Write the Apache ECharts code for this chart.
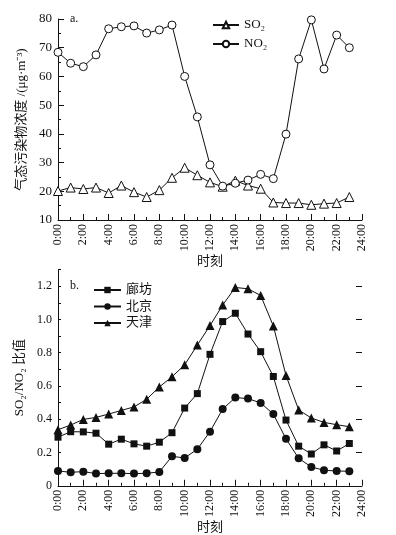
<!DOCTYPE html>
<html><head><meta charset="utf-8">
<script src="https://cdn.jsdelivr.net/npm/echarts@6/dist/echarts.min.js"></script>
<style>html,body{margin:0;padding:0;background:#fff}#c{width:396px;height:535px}</style>
</head><body><div id="c"></div>
<script>
const hours = [0,1,2,3,4,5,6,7,8,9,10,11,12,13,14,15,16,17,18,19,20,21,22,23];
const so2 = [20.1,21.3,20.8,21.3,19.4,22.0,19.7,18.0,20.4,24.7,28.2,25.6,23.1,21.6,23.7,22.0,20.9,16.1,15.9,15.9,15.3,15.7,15.9,18.0];
const no2 = [68.4,64.6,63.4,67.5,76.6,77.3,77.6,75.1,76.2,77.9,60.0,45.9,29.2,21.8,22.8,23.9,25.9,24.4,39.9,66.1,79.7,62.6,74.4,70.0];
const langfang = [0.292,0.325,0.324,0.316,0.250,0.280,0.252,0.238,0.262,0.319,0.467,0.554,0.790,0.987,1.037,0.912,0.806,0.657,0.395,0.238,0.191,0.246,0.209,0.254];
const beijing = [0.089,0.081,0.085,0.073,0.075,0.075,0.073,0.075,0.083,0.177,0.167,0.220,0.325,0.461,0.530,0.524,0.498,0.431,0.282,0.165,0.113,0.093,0.089,0.087];
const tianjin = [0.337,0.365,0.399,0.411,0.431,0.453,0.474,0.520,0.594,0.655,0.727,0.846,0.963,1.086,1.192,1.184,1.144,0.961,0.663,0.456,0.407,0.381,0.367,0.355];
const ratioMajorTicks = [0,0.2,0.4,0.6,0.8,1.0,1.2];

const pair = arr => hours.map((h,i)=>[h,arr[i]]);
const serif = '"Liberation Serif","Noto Sans CJK SC",serif';
const black = '#111';

function xAxis(gridIndex){
  return {type:'value', gridIndex, min:0, max:24, interval:2,
    name:'时刻', nameLocation:'middle', nameGap:29,
    nameTextStyle:{fontFamily:serif, fontSize:13, color:black},
    axisLine:{show:true, onZero:false, lineStyle:{color:black, width:1}},
    axisTick:{show:true, inside:true, length:6, lineStyle:{color:black}},
    minorTick:{show:true, splitNumber:2, length:3, lineStyle:{color:black}},
    splitLine:{show:false},
    axisLabel:{rotate:90, fontFamily:serif, fontSize:12, color:black, margin:4,
      formatter:v=>v+':00'}};
}

const chart = echarts.init(document.getElementById('c'), null, {renderer:'canvas'});
chart.setOption({
  animation:false,
  backgroundColor:'#fff',
  grid:[
    {left:58, top:19, width:304, height:201},
    {left:58, top:269.5, width:304, height:218}
  ],
  xAxis:[xAxis(0), xAxis(1)],
  yAxis:[
    {type:'value', gridIndex:0, min:10, max:80, interval:10,
      name:'气态污染物浓度 /(μg·m⁻³)', nameLocation:'middle', nameGap:28,
      nameTextStyle:{fontFamily:serif, fontSize:13, color:black},
      axisLine:{show:true, lineStyle:{color:black}},
      axisTick:{show:true, inside:true, length:6, lineStyle:{color:black}},
      minorTick:{show:true, splitNumber:2, length:3, lineStyle:{color:black}},
      splitLine:{show:false},
      axisLabel:{fontFamily:serif, fontSize:13, color:black, margin:6}},
    {type:'value', gridIndex:1, min:0, max:1.3, interval:0.1,
      name:'SO₂/NO₂ 比值', nameLocation:'middle', nameGap:32,
      nameTextStyle:{fontFamily:serif, fontSize:13, color:black},
      axisLine:{show:true, lineStyle:{color:black}},
      axisTick:{show:true, inside:true, length:3, lineStyle:{color:black}},
      splitLine:{show:false},
      axisLabel:{fontFamily:serif, fontSize:12, color:black, margin:6,
        formatter:v=>{const k=Math.round(v*10); if(k%2) return ''; return k===0?'0':(k/10).toFixed(1);}}},
    {type:'value', gridIndex:1, min:0, max:1.3, interval:0.1,
      axisLine:{show:false},
      axisTick:{show:true, inside:true, length:6, customValues:ratioMajorTicks, lineStyle:{color:black}},
      splitLine:{show:false},
      axisLabel:{show:false}}
  ],
  legend:[
    {orient:'vertical', left:212, top:18, padding:0, itemWidth:26, itemHeight:8, itemGap:5,
      textStyle:{fontFamily:serif, fontSize:13, color:black, lineHeight:14},
      data:['SO₂','NO₂']},
    {orient:'vertical', left:93, top:283, padding:0, itemWidth:27, itemHeight:8, itemGap:2.5,
      textStyle:{fontFamily:serif, fontSize:13, color:black, lineHeight:14},
      data:['廊坊','北京','天津']}
  ],
  graphic:[
    {type:'text', left:70, top:13, style:{text:'a.', font:'12px '+serif, fill:black}},
    {type:'text', left:70, top:280, style:{text:'b.', font:'12px '+serif, fill:black}}
  ],
  series:[
    {name:'SO₂', type:'line', xAxisIndex:0, yAxisIndex:0, data:pair(so2),
      symbol:'triangle', symbolSize:9, showAllSymbol:true,
      lineStyle:{color:black, width:1}, itemStyle:{color:'#fff', borderColor:black, borderWidth:1}},
    {name:'NO₂', type:'line', xAxisIndex:0, yAxisIndex:0, data:pair(no2),
      symbol:'circle', symbolSize:8, showAllSymbol:true,
      lineStyle:{color:black, width:1}, itemStyle:{color:'#fff', borderColor:black, borderWidth:1}},
    {name:'廊坊', type:'line', xAxisIndex:1, yAxisIndex:1, data:pair(langfang),
      symbol:'rect', symbolSize:7, showAllSymbol:true,
      lineStyle:{color:black, width:1}, itemStyle:{color:black}},
    {name:'北京', type:'line', xAxisIndex:1, yAxisIndex:1, data:pair(beijing),
      symbol:'circle', symbolSize:8, showAllSymbol:true,
      lineStyle:{color:black, width:1}, itemStyle:{color:black}},
    {name:'天津', type:'line', xAxisIndex:1, yAxisIndex:1, data:pair(tianjin),
      symbol:'triangle', symbolSize:9, showAllSymbol:true,
      lineStyle:{color:black, width:1}, itemStyle:{color:black}}
  ]
});
</script></body></html>
